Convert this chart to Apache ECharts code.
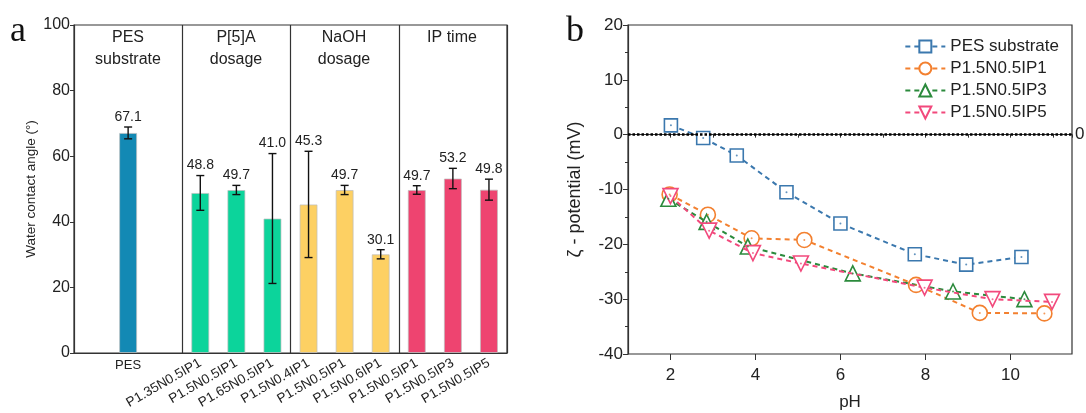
<!DOCTYPE html>
<html>
<head>
<meta charset="utf-8">
<script src="https://cdn.jsdelivr.net/npm/echarts@6/dist/echarts.min.js"></script>
<style>
  html, body { margin: 0; padding: 0; background: #fff; }
  #chart { width: 1086px; height: 413px; }
</style>
</head>
<body>
<div id="chart"></div>
<script>
// Panel a: water contact angle of membranes
const categories = ['', 'PES', '', 'P1.35N0.5IP1', 'P1.5N0.5IP1', 'P1.65N0.5IP1',
  'P1.5N0.4IP1', 'P1.5N0.5IP1', 'P1.5N0.6IP1', 'P1.5N0.5IP1', 'P1.5N0.5IP3', 'P1.5N0.5IP5'];
const contactAngle = [null, 67.1, null, 48.8, 49.7, 41.0, 45.3, 49.7, 30.1, 49.7, 53.2, 49.8];
const angleError = [null, 1.8, null, 5.3, 1.4, 19.8, 16.2, 1.4, 1.4, 1.3, 3.1, 3.2];
const groupTitles = ['PES\nsubstrate', 'P[5]A\ndosage', 'NaOH\ndosage', 'IP time'];
const angleTicks = [0, 20, 40, 60, 80, 100];

// Panel b: zeta potential vs pH, [pH, mV]
const zetaPES = [[2.01, 1.7], [2.77, -0.6], [3.56, -3.8], [4.73, -10.5], [6.0, -16.2], [7.75, -21.8], [8.96, -23.7], [10.26, -22.3]];
const zetaIP1 = [[1.98, -10.9], [2.88, -14.6], [3.91, -18.9], [5.15, -19.2], [7.78, -27.4], [9.28, -32.5], [10.80, -32.6]];
const zetaIP3 = [[1.95, -11.7], [2.85, -15.9], [3.82, -20.4], [6.29, -25.3], [8.65, -28.6], [10.33, -30.0]];
const zetaIP5 = [[2.0, -11.2], [2.91, -17.5], [3.94, -21.6], [5.07, -23.5], [7.98, -27.9], [9.58, -30.0], [10.98, -30.5]];
const zetaNames = ['PES substrate', 'P1.5N0.5IP1', 'P1.5N0.5IP3', 'P1.5N0.5IP5'];
const pHTicks = [2, 4, 6, 8, 10];

const FONT = "'Liberation Sans', Arial, sans-serif";
const barPalette = ['#1389b4', '#1389b4', '#1389b4', '#0cd49b', '#0cd49b', '#0cd49b',
  '#fdd063', '#fdd063', '#fdd063', '#ee4470', '#ee4470', '#ee4470'];
const lineColors = ['#3b78ae', '#f3802f', '#2b8a3c', '#f2497c'];
const symbols = ['rect', 'circle', 'triangle', 'triangle'];
const symbolRot = [0, 0, 0, 180];
const symbolSizes = [13, 15, 15, 15];
const zetaSets = [zetaPES, zetaIP1, zetaIP3, zetaIP5];

const chart = echarts.init(document.getElementById('chart'), null, { renderer: 'canvas' });

const barData = contactAngle.map((v, i) => v == null ? null : {
  value: v,
  itemStyle: { color: barPalette[i] }
});

const errData = contactAngle.map((v, i) => [i, v, angleError[i]]).filter(d => d[1] != null);

function renderError(params, api) {
  const i = api.value(0), v = api.value(1), e = api.value(2);
  const top = api.coord([i, v + e]);
  const bot = api.coord([i, v - e]);
  const cap = 4;
  const st = { stroke: '#111', lineWidth: 1.4 };
  return {
    type: 'group',
    children: [
      { type: 'line', shape: { x1: top[0], y1: top[1], x2: bot[0], y2: bot[1] }, style: st },
      { type: 'line', shape: { x1: top[0] - cap, y1: top[1], x2: top[0] + cap, y2: top[1] }, style: st },
      { type: 'line', shape: { x1: bot[0] - cap, y1: bot[1], x2: bot[0] + cap, y2: bot[1] }, style: st },
      { type: 'text', x: top[0], y: top[1] - 3,
        style: { text: v.toFixed(1), fill: '#222', font: '14px ' + FONT, align: 'center', verticalAlign: 'bottom' } }
    ]
  };
}

const zetaSeries = [];
zetaSets.forEach((set, k) => {
  zetaSeries.push({
    name: zetaNames[k],
    type: 'line',
    xAxisIndex: 2, yAxisIndex: 1,
    data: set,
    symbol: symbols[k],
    symbolRotate: symbolRot[k],
    symbolSize: symbolSizes[k],
    showAllSymbol: true,
    lineStyle: { color: lineColors[k], width: 2, type: [5, 4] },
    itemStyle: { color: '#fff', borderColor: lineColors[k], borderWidth: 1.6 },
    z: 3 + k,
    markLine: k === 0 ? {
      silent: true,
      symbol: 'none',
      data: [{ yAxis: 0 }],
      lineStyle: { color: '#000', type: [2.5, 2], width: 2.6 },
      label: { show: true, position: 'end', formatter: '0', color: '#222', fontSize: 17, fontFamily: FONT, distance: 3 }
    } : undefined
  });
  // small centre dot inside each hollow marker
  zetaSeries.push({
    type: 'scatter',
    xAxisIndex: 2, yAxisIndex: 1,
    data: set,
    symbol: 'circle',
    symbolSize: 2,
    itemStyle: { color: lineColors[k] },
    silent: true,
    z: 10
  });
});

const option = {
  animation: false,
  backgroundColor: '#fff',
  textStyle: { fontFamily: FONT },
  grid: [
    { left: 74, right: 579, top: 25, bottom: 60, outerBoundsMode: 'none', containLabel: false,
      show: true, borderColor: '#333', borderWidth: 1.2, backgroundColor: 'transparent' },
    { left: 628, right: 14, top: 25, bottom: 59, outerBoundsMode: 'none', containLabel: false,
      show: true, borderColor: '#333', borderWidth: 1.2, backgroundColor: 'transparent' }
  ],
  legend: {
    data: zetaNames,
    orient: 'vertical',
    right: 22, top: 33,
    itemGap: 5,
    itemWidth: 40, itemHeight: 15,
    textStyle: { fontSize: 17, color: '#222', fontFamily: FONT }
  },
  xAxis: [
    {
      gridIndex: 0, type: 'category', data: categories, boundaryGap: true,
      axisLine: { lineStyle: { color: '#333', width: 1.2 } },
      axisTick: { show: false },
      axisLabel: {
        rotate: 30, fontSize: 13.5, color: '#222', margin: 9, interval: 0,
        formatter: (v, i) => i >= 3 ? v : ''
      },
      splitLine: {
        show: true,
        interval: (i) => i === 3 || i === 6 || i === 9,
        lineStyle: { color: '#333', width: 1.2 }
      }
    },
    {
      gridIndex: 0, type: 'category', data: categories, boundaryGap: true, position: 'bottom',
      axisLine: { show: false }, axisTick: { show: false }, splitLine: { show: false },
      axisLabel: { fontSize: 13, color: '#222', margin: 6, interval: 0, formatter: (v, i) => i === 1 ? v : '' }
    },
    {
      gridIndex: 1, type: 'value', min: 1, max: 11.45, interval: 1,
      name: 'pH', nameLocation: 'middle', nameGap: 40,
      nameTextStyle: { fontSize: 17, color: '#222' },
      axisLine: { lineStyle: { color: '#333', width: 1.2 } },
      axisTick: { show: true, length: 3, lineStyle: { color: '#333' } },
      axisLabel: { show: false },
      splitLine: { show: false }
    },
    {
      gridIndex: 1, type: 'value', min: 1, max: 11.45, position: 'bottom',
      axisLine: { show: false },
      axisTick: { show: true, length: 6, customValues: pHTicks, lineStyle: { color: '#333' } },
      axisLabel: { fontSize: 17, color: '#222', margin: 13, customValues: pHTicks },
      splitLine: { show: false }
    }
  ],
  yAxis: [
    {
      gridIndex: 0, type: 'value', min: 0, max: 100, interval: 20,
      name: 'Water contact angle (°)', nameLocation: 'middle', nameGap: 36,
      nameTextStyle: { fontSize: 13.5, color: '#222' },
      axisLine: { show: true, lineStyle: { color: '#333', width: 1.2 } },
      axisTick: { show: true, length: 4, lineStyle: { color: '#333' } },
      axisLabel: { fontSize: 16, color: '#222', margin: 4, customValues: angleTicks },
      splitLine: { show: false }
    },
    {
      gridIndex: 1, type: 'value', min: -40, max: 20, interval: 10,
      name: 'ζ - potential (mV)', nameLocation: 'middle', nameGap: 44,
      nameTextStyle: { fontSize: 18, color: '#222' },
      axisLine: { show: true, lineStyle: { color: '#333', width: 1.2 } },
      axisTick: { show: true, length: 5, lineStyle: { color: '#333' } },
      minorTick: { show: true, splitNumber: 2, length: 3, lineStyle: { color: '#333' } },
      axisLabel: { fontSize: 17, color: '#222', margin: 5 },
      splitLine: { show: false }
    }
  ],
  graphic: [
    { type: 'text', left: 10, top: 14, style: { text: 'a', font: '36px "Liberation Serif", serif', fill: '#111' } },
    { type: 'text', left: 566, top: 14, style: { text: 'b', font: '36px "Liberation Serif", serif', fill: '#111' } },
    ...groupTitles.map((t, g) => ({
      type: 'text', x: 74 + 36 * (3 * g + 1.5), y: 27,
      style: { text: t, font: '16px ' + FONT, fill: '#222', align: 'center', verticalAlign: 'top', lineHeight: 22 }
    }))
  ],
  series: [
    {
      type: 'bar', xAxisIndex: 0, yAxisIndex: 0,
      data: barData, barWidth: 18,
      itemStyle: { borderColor: 'rgba(190,190,190,0.7)', borderWidth: 1 },
      z: 2
    },
    {
      type: 'custom', xAxisIndex: 0, yAxisIndex: 0,
      data: errData, renderItem: renderError,
      encode: { x: 0, y: [1] }, z: 5, silent: true
    },
    ...zetaSeries
  ]
};

chart.setOption(option);
</script>
</body>
</html>
